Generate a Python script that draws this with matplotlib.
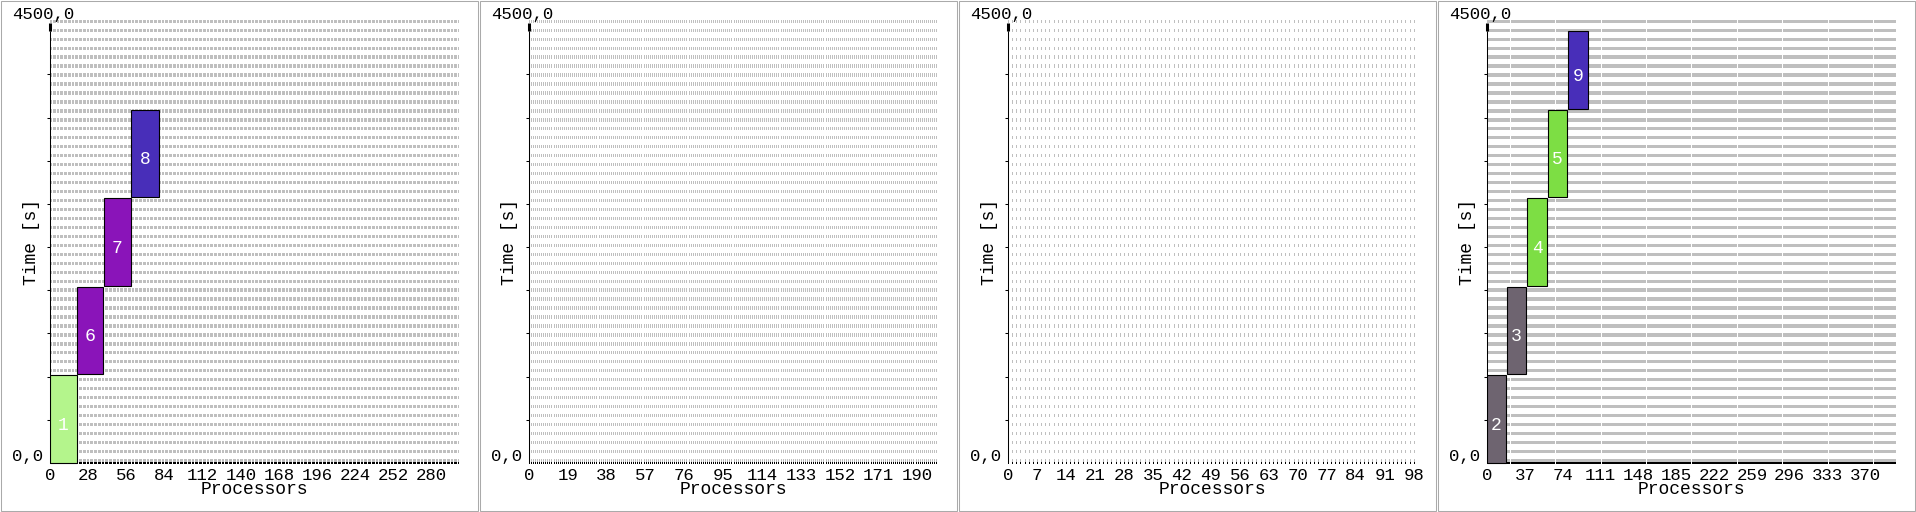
import matplotlib
matplotlib.use("Agg")
import matplotlib.pyplot as plt
from matplotlib.patches import Rectangle

W, H = 1916, 512

# ---- data ----
panel_procs = [300, 200, 99, 400]          # processors per machine
panel_xmax = [300, 200, 98.8, 400]
tick_step = [28, 19, 7, 37]
tick_last = [280, 190, 98, 370]
y_top_label = "4500,0"
y_bottom_label = "0,0"
y_max = 4500
y_tick_step = 450

# machine 1
m1_ids = [1, 6, 7, 8]
m1_x = [0, 19.8, 39.8, 59.7]
m1_w = [19.6, 19.4, 19.4, 20.1]
m1_start = [0, 928, 1842, 2770]
m1_end = [921, 1838, 2766, 3684]
m1_colors = ["#b4f58c", "#8a14b9", "#8a14b9", "#482eb9"]

# machine 4
m4_ids = [2, 3, 4, 5, 9]
m4_x = [0, 19.3, 39.2, 59.8, 79.3]
m4_w = [18.6, 18.9, 19.9, 18.9, 19.9]
m4_start = [0, 928, 1842, 2770, 3690]
m4_end = [921, 1838, 2766, 3684, 4500]
m4_colors = ["#6e6470", "#6e6470", "#7dde44", "#7dde44", "#482eb9"]

panel_jobs = [
    (m1_ids, m1_x, m1_w, m1_start, m1_end, m1_colors),
    None,
    None,
    (m4_ids, m4_x, m4_w, m4_start, m4_end, m4_colors),
]

# ---- layout (pixels) ----
panel_left = [0, 479, 958, 1437]
ax_left, ax_w = 50, 409
ax_top, ax_bottom, zero_px = 17, 465, 463
spp = y_tick_step / 43.17          # seconds per pixel
n_rows = 50
row_pitch, row_h = 8.96, 3.3

plt.rcParams['font.family'] = ['Liberation Mono', 'DejaVu Sans Mono']

fig = plt.figure(figsize=(W / 100, H / 100), dpi=100)


def fx(px):
    return px / W


def fy(py):
    return 1 - py / H


for i in range(4):
    x0 = panel_left[i]
    fig.add_artist(Rectangle((fx(x0 + 0.5), fy(510.5)), 477 / W, 510 / H,
                             transform=fig.transFigure, fill=False,
                             edgecolor="#aaaaaa", linewidth=0.75))

    ax = fig.add_axes([fx(x0 + ax_left), fy(ax_bottom), ax_w / W,
                       (ax_bottom - ax_top) / H])
    xmax = panel_xmax[i]
    ax.set_xlim(0, xmax)
    ax.set_ylim(-(ax_bottom - zero_px) * spp, (zero_px - ax_top) * spp)
    for s in ax.spines.values():
        s.set_visible(False)
    ax.patch.set_visible(False)

    # one small cell per processor and time row
    px_unit = xmax / ax_w
    cells = [(p, px_unit) for p in range(panel_procs[i])]
    for k in range(n_rows):
        ax.broken_barh(cells, ((1 + row_pitch * k) * spp, row_h * spp),
                       facecolors="#bfbfbf", linewidth=0, antialiased=False,
                       zorder=1)
    # bottom axis line drawn in the same cell pattern
    ax.broken_barh(cells, (-1 * spp, 2 * spp), facecolors="black",
                   linewidth=0, antialiased=False, zorder=2, clip_on=False)

    # left axis line + marker at the top
    ax.plot([0, 0], [0, y_max], color="black", lw=0.75, zorder=2,
            clip_on=False, solid_capstyle="butt")
    ax.plot([0, 0], [y_max, y_max + 90], color="black", lw=2.2, zorder=2,
            clip_on=False, solid_capstyle="butt")

    ax.set_yticks(range(y_tick_step, y_max, y_tick_step))
    ax.set_yticklabels([])
    ax.tick_params(axis="y", length=2.5, width=0.75, direction="out")

    ticks = list(range(0, tick_last[i] + 1, tick_step[i]))
    ax.set_xticks(ticks)
    ax.set_xticklabels([str(t) for t in ticks], fontsize=12.5)
    ax.tick_params(axis="x", length=0, pad=2.5)

    ax.set_xlabel("Processors", fontsize=13)
    ax.xaxis.set_label_coords(0.5, (ax_bottom - 489) / (ax_bottom - ax_top))
    ax.xaxis.label.set_va("center")
    ax.set_ylabel("Time [s]", fontsize=13)
    ax.yaxis.set_label_coords((31 - ax_left) / ax_w,
                              (ax_bottom - 242) / (ax_bottom - ax_top))
    ax.yaxis.label.set_va("center")

    fig.text(fx(x0 + 12), fy(15), y_top_label, ha="left", va="center",
             fontsize=12.5)
    fig.text(fx(x0 + 12), fy(457), y_bottom_label, ha="left", va="center",
             fontsize=12.5)

    jobs = panel_jobs[i]
    if jobs is not None:
        for jid, jx, jw, js, je, jc in zip(*jobs):
            ax.add_patch(Rectangle((jx, js), jw, je - js, facecolor=jc,
                                   edgecolor="black", linewidth=0.8,
                                   zorder=3))
            # number sits a little below the middle of the box
            ax.text(jx + jw / 2, (js + je) / 2 - 11 * spp, str(jid),
                    color="white", ha="center", va="baseline", fontsize=13,
                    zorder=4)

fig.savefig("out.png", dpi=100)
